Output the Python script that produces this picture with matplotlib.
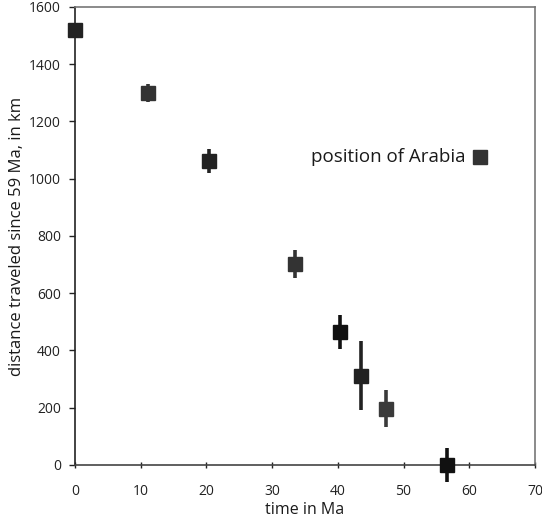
import matplotlib
matplotlib.use("Agg")
import matplotlib.pyplot as plt

plt.rcParams['font.family'] = ['Open Sans', 'DejaVu Sans']

time_ma = [0, 11.1, 20.4, 33.5, 40.4, 43.6, 47.3, 56.6]
distance_km = [1520, 1300, 1062, 703, 465, 312, 197, 0]
error_km = [22, 32, 42, 48, 60, 120, 65, 60]
colors = ['#222222', '#333333', '#222222', '#333333', '#111111', '#222222', '#3a3a3a', '#111111']

legend_x = [61.6]
legend_y = [1076]
legend_err = [25]

fig = plt.figure(figsize=(5.42, 5.22), dpi=100)
ax = fig.add_axes([0.1384, 0.1092, 0.8486, 0.8774])

for x, y, e, c in zip(time_ma, distance_km, error_km, colors):
    eb = ax.errorbar(x, y, yerr=e, fmt='s', color=c, ecolor=c, elinewidth=2.6,
                     capsize=0, markersize=9.5, zorder=3)
    for art in eb.get_children():
        art.set_clip_on(False)
eb = ax.errorbar(legend_x, legend_y, yerr=legend_err, fmt='s', color='#333333',
                 ecolor='#333333', elinewidth=2.6, capsize=0, markersize=9.5)
for art in eb.get_children():
    art.set_clip_on(False)
ax.text(59.4, legend_y[0], 'position of Arabia', ha='right', va='center', fontsize=13.5,
        color='#1a1a1a')

ax.set_xlim(0, 70)
ax.set_ylim(0, 1600)
ax.set_xticks(range(0, 71, 10))
ax.set_yticks(range(0, 1601, 200))
ax.tick_params(axis='both', labelsize=10, width=1, colors='#222222')
ax.tick_params(axis='y', length=4, pad=6)
ax.tick_params(axis='x', direction='inout', length=5, pad=11)
for s in ['left', 'bottom']:
    ax.spines[s].set_color('#222222')
    ax.spines[s].set_linewidth(1.2)
ax.spines['bottom'].set_color('#444444')
for s in ['top', 'right']:
    ax.spines[s].set_color('#777777')
    ax.spines[s].set_linewidth(1.2)

ax.set_xlabel('time in Ma', fontsize=11.5, labelpad=2, color='#1a1a1a')
ax.set_ylabel('distance traveled since 59 Ma, in km', fontsize=12, labelpad=3, color='#1a1a1a')

fig.savefig('out.png', dpi=100)
